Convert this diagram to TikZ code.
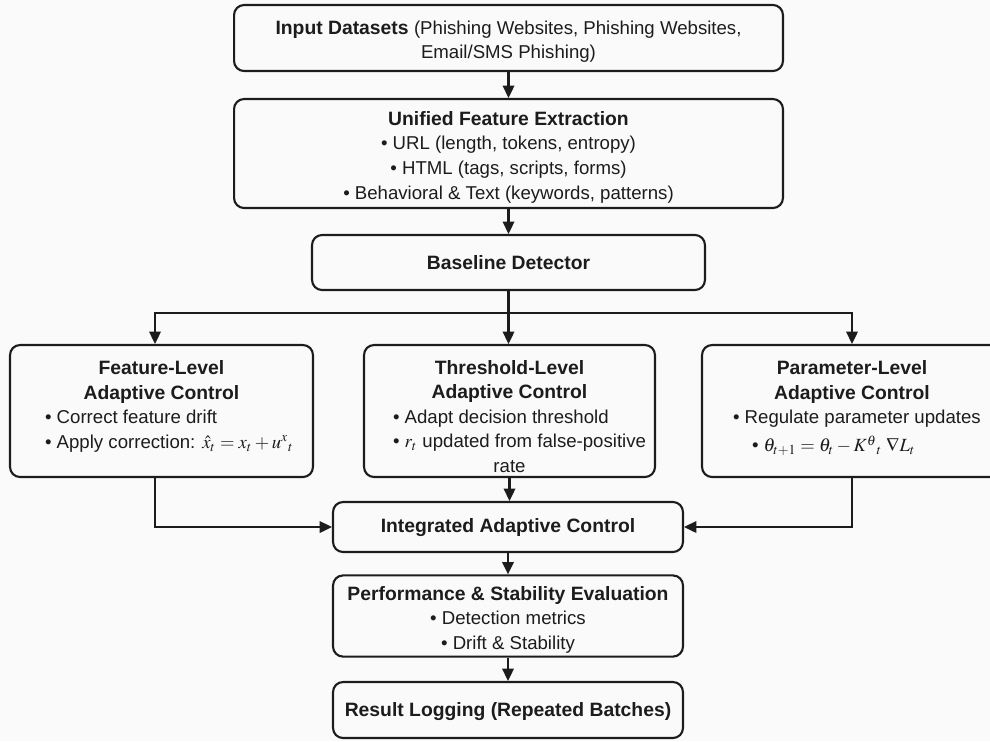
\documentclass[tikz,border=0pt]{standalone}
\usepackage{mathptmx}
\usepackage{fontspec}
\setmainfont{Liberation Sans}
\usetikzlibrary{arrows.meta,calc}
\newcommand\fnorm{\fontsize{10.6}{14}\selectfont\mdseries}
\newcommand\fbld{\fontsize{11}{14}\selectfont\bfseries}
\newcommand\bl[2]{\makebox[#1][l]{\textbullet{} #2}}
\newcommand\fl[1]{\rule{0pt}{#1}}
\newcommand\dpx[1]{\rule[-#1]{0pt}{0pt}}
\definecolor{bgcol}{HTML}{FAFAFA}
\definecolor{ink}{HTML}{1C1C1C}
\tikzset{
  box/.style={draw=ink, line width=1.2pt, rounded corners=0.2cm, align=center,
    inner sep=2pt, font=\fnorm, text=ink},
  arr/.style={-{Triangle[length=7pt,width=6.5pt]}, line width=1.2pt, draw=ink},
  ln/.style={line width=1.2pt, draw=ink}
}
\begin{document}
\begin{tikzpicture}[x=0.02cm,y=-0.02cm]
\fill[bgcol] (0,0) rectangle (990,741);
\useasboundingbox (0,0) rectangle (990,741);

\node[box, minimum width=10.98cm, minimum height=1.32cm] (inp) at (508.5,38)
  {\fl{12pt}\fbld Input Datasets \fnorm(Phishing Websites, Phishing Websites,\\ \fnorm Email/SMS Phishing)};

\node[box, minimum width=10.98cm, minimum height=2.18cm] (uni) at (508.5,153.5)
  {\fl{12pt}\fbld Unified Feature Extraction\\
   \fnorm\textbullet{} URL (length, tokens, entropy)\\
   \fnorm\textbullet{} HTML (tags, scripts, forms)\\
   \fnorm\textbullet{} Behavioral \& Text (keywords, patterns)};

\node[box, minimum width=7.86cm, minimum height=1.1cm] (base) at (508.5,262.5)
  {\fbld Baseline Detector};

\coordinate (split) at (508.5,313);
\coordinate (fx) at (155,313);

\node[box, minimum width=6.06cm, minimum height=2.64cm] (feat) at (161.5,411)
  {\fbld Feature-Level\\
   \fbld Adaptive Control\\
   \fnorm\bl{4.66cm}{Correct feature drift}\\
   \fnorm\bl{4.66cm}{Apply correction: $\hat{x}_t = x_t + u^{x}{}_{t}$}\dpx{7.4pt}};

\node[box, minimum width=5.82cm, minimum height=2.64cm] (thr) at (509.5,411)
  {\fl{14pt}\fbld Threshold-Level\\
   \fbld Adaptive Control\\
   \fnorm\bl{4.66cm}{Adapt decision threshold}\\
   \fnorm\bl{4.66cm}{$r_t$ updated from false-positive}\\
   \fnorm rate};

\node[box, minimum width=6cm, minimum height=2.64cm] (par) at (852,411)
  {\fbld Parameter-Level\\
   \fbld Adaptive Control\\
   \fnorm\bl{4.76cm}{Regulate parameter updates}\\[2pt]
   \fnorm\makebox[4.76cm][l]{\hspace{10.8pt}\textbullet{} $\theta_{t+1} = \theta_t - K^{\theta}{}_{t}\;\nabla L_t$}\dpx{5.4pt}};

\node[box, minimum width=7cm, minimum height=1cm] (integ) at (508,527)
  {\fl{9pt}\fbld Integrated Adaptive Control};

\node[box, minimum width=7cm, minimum height=1.56cm] (perf) at (508,616)
  {\fl{12pt}\fbld Performance \& Stability Evaluation\\
   \fnorm\textbullet{} Detection metrics\\
   \fnorm\textbullet{} Drift \& Stability};

\node[box, minimum width=7cm, minimum height=1.12cm] (res) at (508,710)
  {\fl{9.5pt}\fbld Result Logging (Repeated Batches)};

\draw[arr] (inp) -- (uni);
\draw[arr] (uni) -- (base);
\draw[ln] (base.south) -- (split);
\draw[arr] (split) -- (fx) -- (fx |- feat.north);
\draw[arr] (split) -- (split |- thr.north);
\draw[arr] (split) -| (par.north);
\draw[arr] (thr.south) -- (thr.south |- integ.north);
\draw[arr] (fx |- feat.south) |- (integ.west);
\draw[arr] (par.south) |- (integ.east);
\draw[arr] (integ) -- (perf);
\draw[arr] (perf) -- (res);
\end{tikzpicture}
\end{document}
